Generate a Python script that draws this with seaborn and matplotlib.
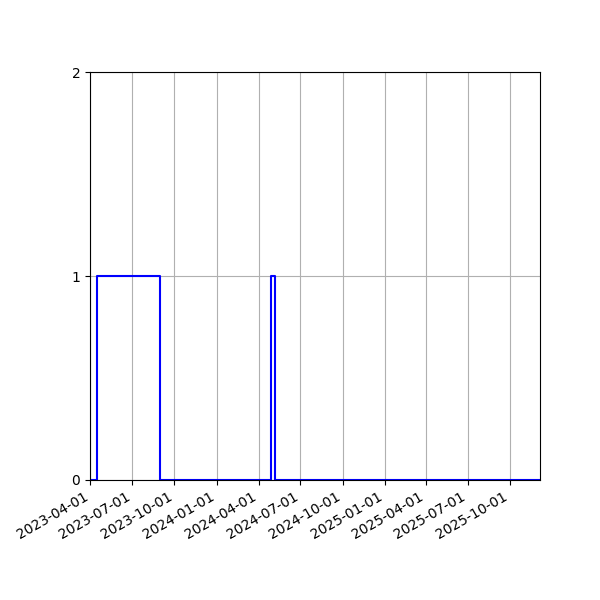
import pandas as pd
import seaborn as sns
import matplotlib
matplotlib.use("Agg")
import matplotlib.pyplot as plt
import matplotlib.dates as mdates

# change points of the 0/1 status series (step-post)
dates = ["2023-03-31", "2023-04-16", "2023-08-31", "2024-04-29", "2024-05-06", "2025-12-05"]
status = [0, 1, 0, 1, 0, 0]
y_ticks = [0, 1, 2]

df = pd.DataFrame({"date": pd.to_datetime(dates), "status": status})

fig, ax = plt.subplots(figsize=(6, 6), dpi=100)
sns.lineplot(data=df, x="date", y="status", drawstyle="steps-post", color="blue", ax=ax)

ax.set_xlim(df["date"].min(), df["date"].max())
ax.set_ylim(0, 2)
ax.set_yticks(y_ticks)
ax.xaxis.set_major_locator(mdates.MonthLocator(bymonth=[1, 4, 7, 10]))
ax.xaxis.set_major_formatter(mdates.DateFormatter("%Y-%m-%d"))
ax.set_xlabel("")
ax.set_ylabel("")
ax.grid(True)
fig.autofmt_xdate()
fig.subplots_adjust(left=0.15, right=0.9, top=0.88)

fig.savefig("out.png", dpi=100)
